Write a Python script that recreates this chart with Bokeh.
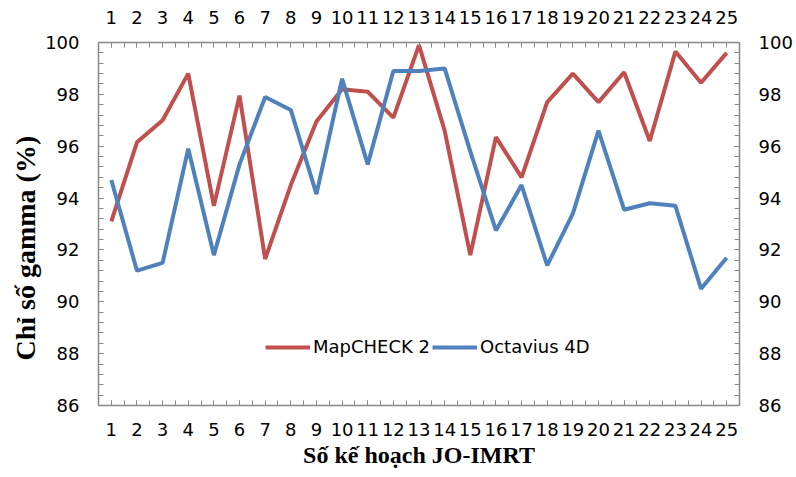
import numpy as np
from bokeh.plotting import figure
from bokeh.models import (ColumnDataSource, Range1d, LinearAxis, FixedTicker,
                          Legend, LegendItem, Title)
from bokeh.embed import file_html
from bokeh.resources import INLINE

# Gamma index per JO-IMRT plan, measured with two QA devices
plans = list(range(1, 26))
mapcheck = [93.1, 96.15, 97.0, 98.8, 93.7, 97.95, 91.65, 94.5, 96.95, 98.2,
            98.1, 97.1, 99.9, 96.6, 91.8, 96.35, 94.8, 97.7, 98.8, 97.7,
            98.85, 96.2, 99.65, 98.45, 99.6]
octavius = [94.7, 91.2, 91.5, 95.9, 91.8, 95.3, 97.9, 97.4, 94.15, 98.6,
            95.3, 98.9, 98.9, 99.0, 95.8, 92.75, 94.5, 91.4, 93.4, 96.6,
            93.55, 93.8, 93.7, 90.5, 91.7]
y_ticks = [86, 88, 90, 92, 94, 96, 98, 100]

src = ColumnDataSource(dict(plan=plans, mapcheck=mapcheck, octavius=octavius))

RED = "#C0504D"
BLUE = "#4F81BD"
AXIS_GREY = "#888888"
TICK_FONT = "DejaVu Sans"
TICK_SIZE = "18px"

p = figure(width=796, height=477, output_backend="svg", toolbar_location=None,
           x_range=Range1d(0.5, 25.5), y_range=Range1d(86, 100),
           min_border_left=98, min_border_right=57,
           min_border_top=42, min_border_bottom=72)
p.outline_line_color = None
p.xgrid.visible = False
p.ygrid.visible = False
p.background_fill_color = "white"
p.border_fill_color = "white"

x_ticker = FixedTicker(ticks=plans,
                       minor_ticks=list(np.arange(0.5, 25.51, 0.5)))
y_ticker = FixedTicker(ticks=y_ticks,
                       minor_ticks=list(np.round(np.arange(86, 100.001, 0.4), 2)))

p.add_layout(LinearAxis(), "above")
p.add_layout(LinearAxis(), "right")

for ax in p.xaxis:
    ax.ticker = x_ticker
for ax in p.yaxis:
    ax.ticker = y_ticker

for ax in p.xaxis + p.yaxis:
    ax.axis_line_color = AXIS_GREY
    ax.axis_line_width = 1.5
    ax.major_tick_line_color = AXIS_GREY
    ax.minor_tick_line_color = AXIS_GREY
    ax.major_tick_in = 5
    ax.major_tick_out = 0
    ax.minor_tick_in = 5
    ax.minor_tick_out = 0
    ax.major_label_text_font = TICK_FONT
    ax.major_label_text_font_size = TICK_SIZE
    ax.major_label_text_color = "black"
    ax.major_label_standoff = 19

# bottom axis carries the x title
xb = p.below[0]
xb.major_label_standoff = 17
xb.axis_label = "Số kế hoạch JO-IMRT"
xb.axis_label_text_font = "Liberation Serif"
xb.axis_label_text_font_style = "bold"
xb.axis_label_text_font_size = "24px"
xb.axis_label_text_color = "black"
xb.axis_label_standoff = 3

# y title, starting a little above the bottom of the plot frame
ytitle = Title(text="Chỉ số gamma (%)", align="left", offset=45,
               text_font="Liberation Serif", text_font_style="bold",
               text_font_size="28px", text_color="black", standoff=4)
p.add_layout(ytitle, "left")

r1 = p.line("plan", "mapcheck", source=src, line_color=RED, line_width=4)
r2 = p.line("plan", "octavius", source=src, line_color=BLUE, line_width=4)

legend = Legend(items=[LegendItem(label="MapCHECK 2", renderers=[r1]),
                       LegendItem(label="Octavius 4D", renderers=[r2])],
                orientation="horizontal", location=(167, 48),
                border_line_color=None, background_fill_alpha=0,
                padding=0, margin=0, glyph_width=45, glyph_height=18,
                label_standoff=3, spacing=2,
                label_text_font=TICK_FONT, label_text_font_size=TICK_SIZE,
                label_text_color="black")
p.add_layout(legend)

open("out.html", "w").write(file_html(p, INLINE))
